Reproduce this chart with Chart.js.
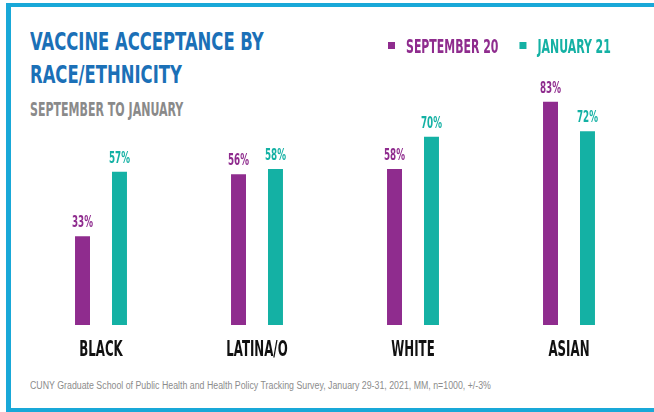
<!DOCTYPE html>
<html>
<head>
<meta charset="utf-8">
<script src="https://cdn.jsdelivr.net/npm/chart.js@4.4.1/dist/chart.umd.min.js"></script>
<style>
  html, body { margin: 0; padding: 0; width: 654px; height: 412px; overflow: hidden; background: #fff; }
  #frame { position: absolute; left: 6px; top: 3px; width: 720px; height: 401px;
           border-top: 4px solid #19a8d8; border-left: 5px solid #19a8d8; border-bottom: 4px solid #19a8d8; }
  .txt { position: absolute; white-space: nowrap; transform-origin: 0 0; }
  #title { left: 30px; top: 25px; font: bold 25px/33px 'DejaVu Sans Condensed', sans-serif;
           color: #1b70b7; transform: scaleX(0.73); }
  #subtitle { left: 30px; top: 100px; font: bold 19px/19px 'DejaVu Sans Condensed', sans-serif;
              color: #8a8a8a; transform: scaleX(0.645); }
  #footer { left: 30px; top: 381px; font: 10px/10px 'Liberation Sans', sans-serif; color: #8c8c8c; transform: scaleX(0.88); }
  #chart { position: absolute; left: 0; top: 0; }
</style>
</head>
<body>
<div id="frame"></div>
<div id="title" class="txt">VACCINE ACCEPTANCE BY<br>RACE/ETHNICITY</div>
<div id="subtitle" class="txt">SEPTEMBER TO JANUARY</div>
<div id="footer" class="txt">CUNY Graduate School of Public Health and Health Policy Tracking Survey, January 29-31, 2021, MM, n=1000, +/-3%</div>
<canvas id="chart" width="654" height="412"></canvas>
<script>
const categories = ['BLACK', 'LATINA/O', 'WHITE', 'ASIAN'];
const seriesNames = ['SEPTEMBER 20', 'JANUARY 21'];
const september20 = [33, 56, 58, 83];
const january21 = [57, 58, 70, 72];

const PURPLE = '#8f2c8e';
const TEAL = '#14b1a4';
const NARROW = "'DejaVu Sans Condensed', sans-serif";

// draws squeezed text so the narrow font looks like the condensed original
function squeezed(ctx, text, x, y, sx) {
    ctx.save();
    ctx.translate(x, y);
    ctx.scale(sx, 1);
    ctx.fillText(text, 0, 0);
    ctx.restore();
}

const valueLabels = {
    id: 'valueLabels',
    afterDatasetsDraw(chart) {
        const ctx = chart.ctx;
        ctx.save();
        ctx.font = 'bold 15px ' + NARROW;
        ctx.textAlign = 'center';
        ctx.textBaseline = 'alphabetic';
        chart.data.datasets.forEach((ds, i) => {
            chart.getDatasetMeta(i).data.forEach((bar, j) => {
                ctx.fillStyle = ds.backgroundColor;
                squeezed(ctx, ds.data[j] + '%', bar.x, bar.y - 9, 0.65);
            });
        });
        ctx.restore();
    }
};

const categoryLabels = {
    id: 'categoryLabels',
    afterDraw(chart) {
        const ctx = chart.ctx;
        const x = chart.scales.x;
        ctx.save();
        ctx.font = 'bold 20.5px ' + NARROW;
        ctx.textAlign = 'center';
        ctx.textBaseline = 'alphabetic';
        ctx.fillStyle = '#111';
        chart.data.labels.forEach((lab, i) => {
            squeezed(ctx, lab, x.getPixelForValue(i), chart.chartArea.bottom + 31, 0.64);
        });
        ctx.restore();
    }
};

const topLegend = {
    id: 'topLegend',
    afterDraw(chart) {
        const ctx = chart.ctx;
        const sx = 0.64;
        let cx = 388;
        ctx.save();
        ctx.font = 'bold 19px ' + NARROW;
        ctx.textAlign = 'left';
        ctx.textBaseline = 'alphabetic';
        chart.data.datasets.forEach(ds => {
            ctx.fillStyle = ds.backgroundColor;
            ctx.fillRect(cx, 42, 7, 7);
            cx += 18;
            squeezed(ctx, ds.label, cx, 53, sx);
            cx += ctx.measureText(ds.label).width * sx + 21;
        });
        ctx.restore();
    }
};

new Chart(document.getElementById('chart'), {
    type: 'bar',
    data: {
        labels: categories,
        datasets: [
            {
                label: seriesNames[0],
                data: september20,
                backgroundColor: PURPLE,
                categoryPercentage: 0.474,
                barPercentage: 0.405
            },
            {
                label: seriesNames[1],
                data: january21,
                backgroundColor: TEAL,
                categoryPercentage: 0.474,
                barPercentage: 0.405
            }
        ]
    },
    options: {
        responsive: false,
        animation: false,
        layout: { padding: { left: 23, right: 7, top: 56, bottom: 87 } },
        plugins: {
            legend: { display: false },
            tooltip: { enabled: false }
        },
        scales: {
            x: { display: false },
            y: { display: false, min: 0, max: 100 }
        }
    },
    plugins: [valueLabels, categoryLabels, topLegend]
});
</script>
</body>
</html>
